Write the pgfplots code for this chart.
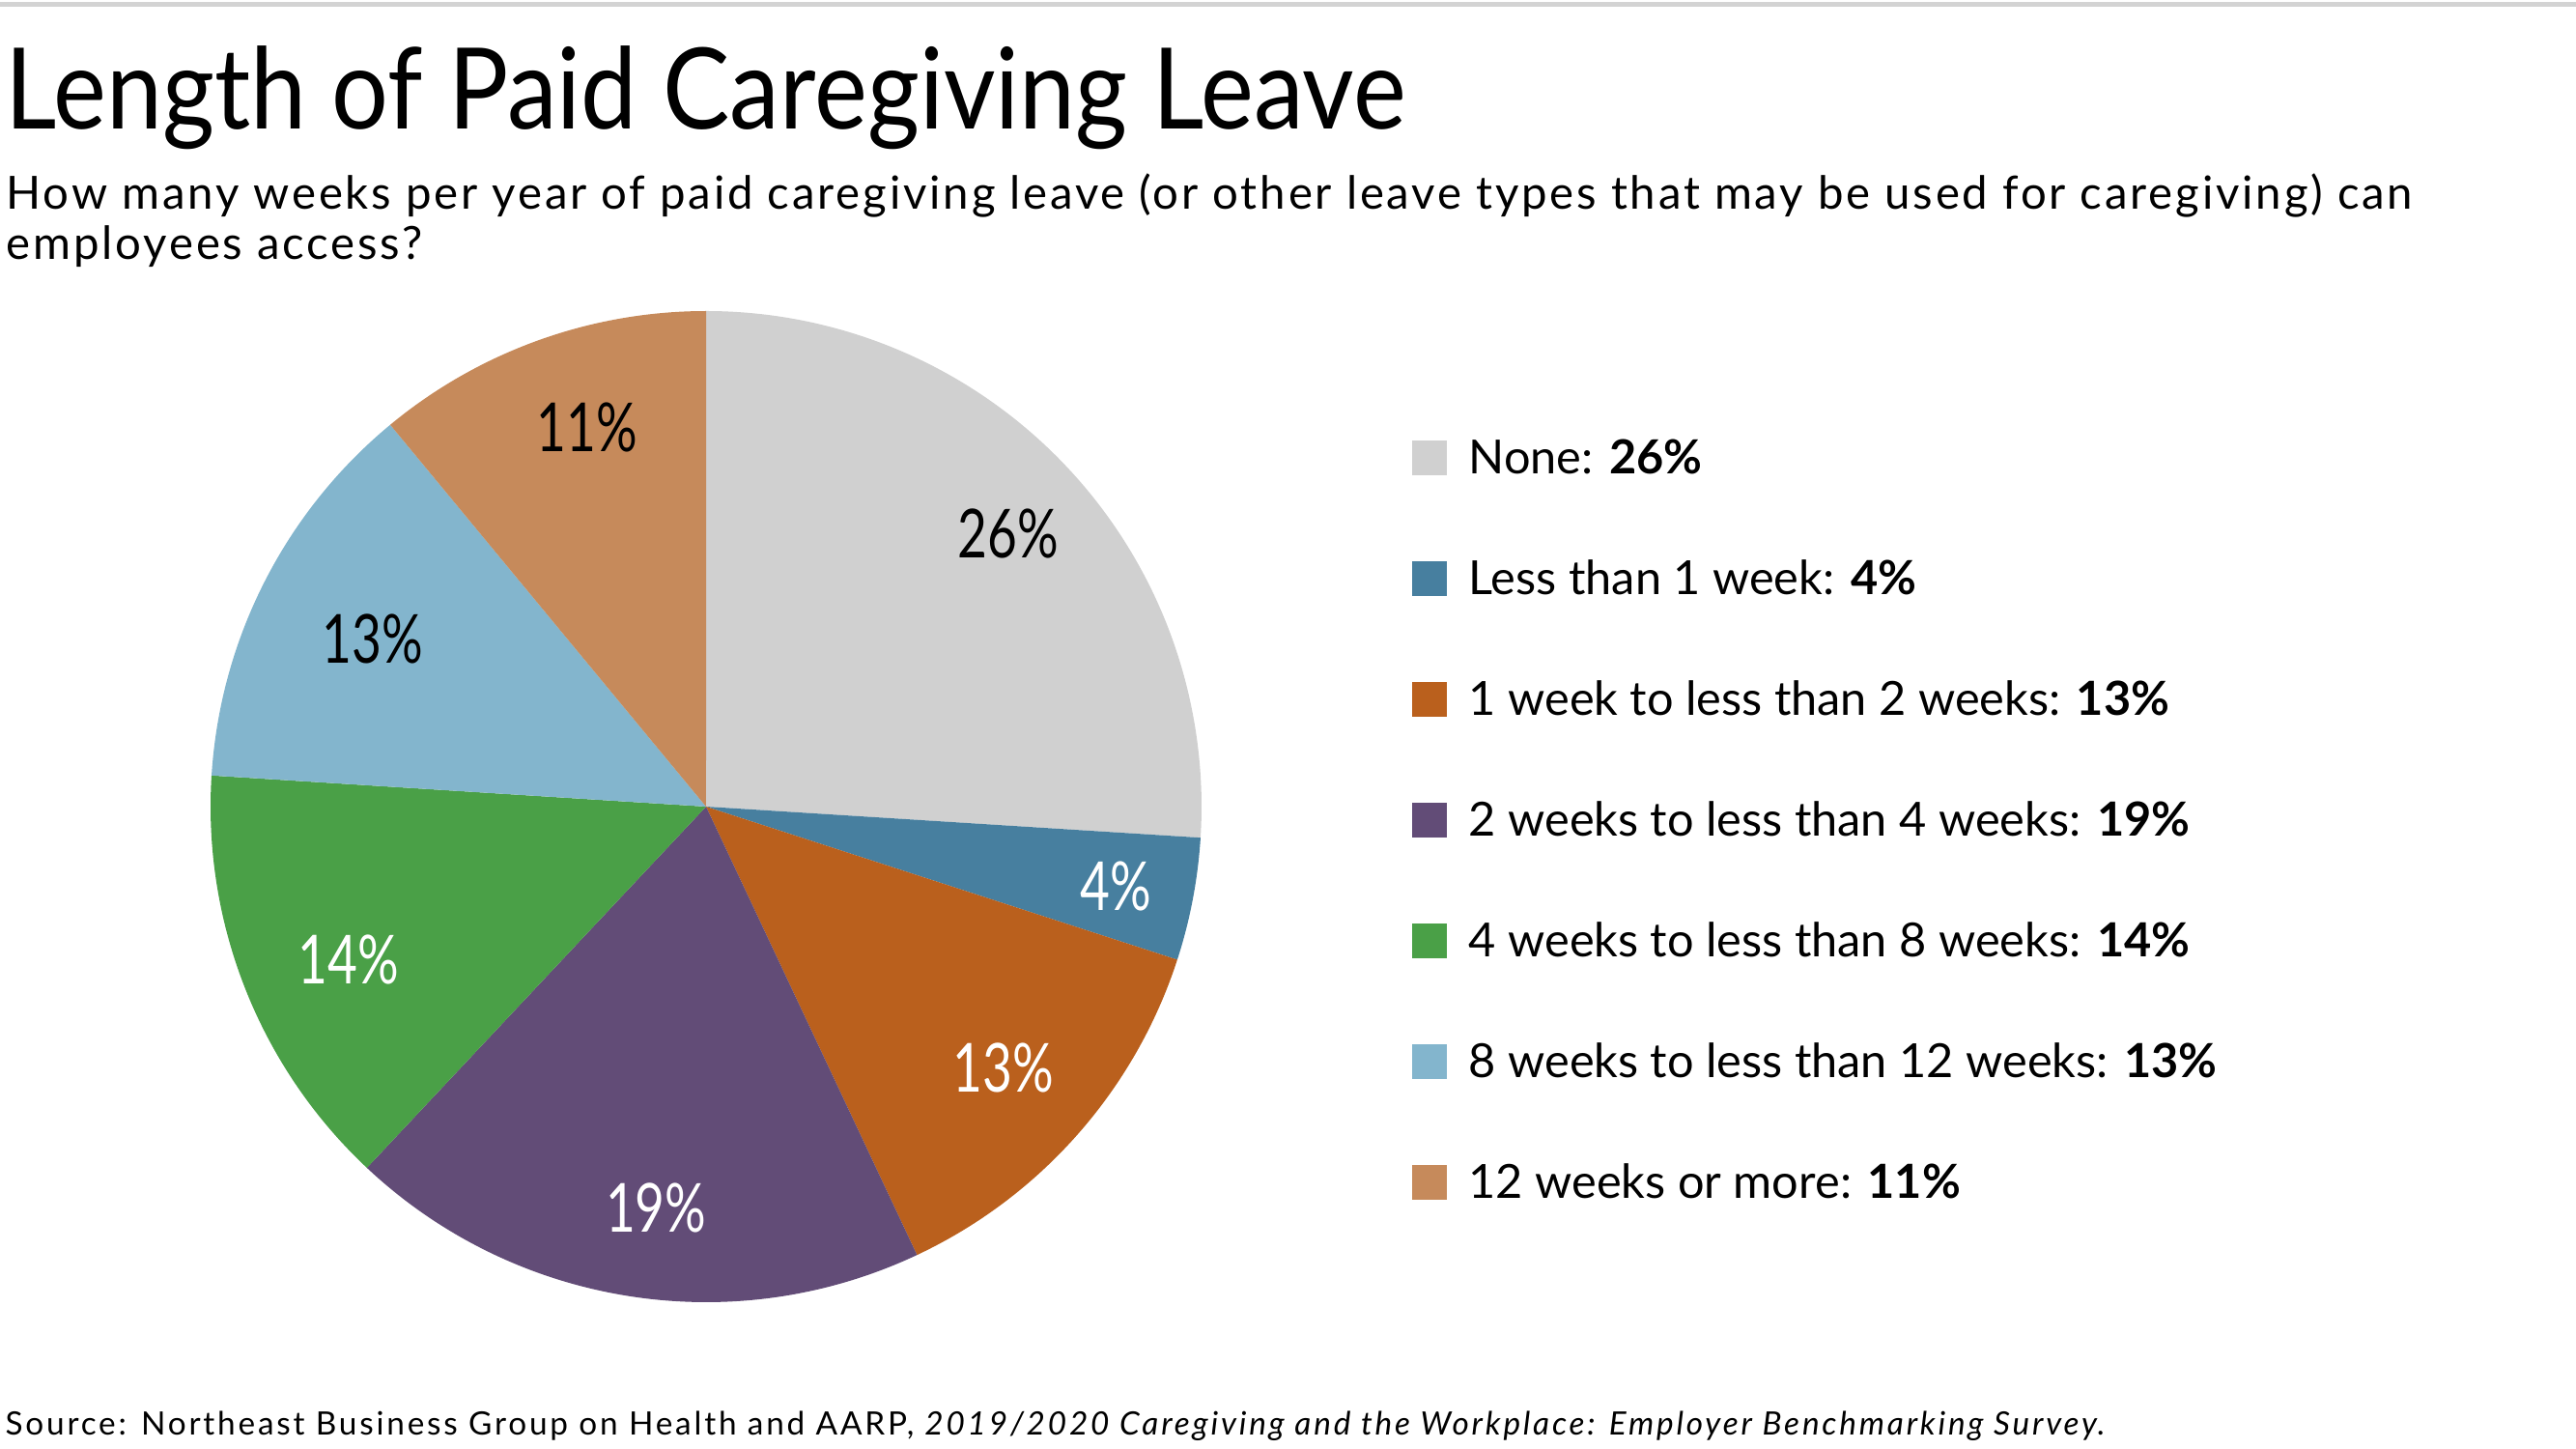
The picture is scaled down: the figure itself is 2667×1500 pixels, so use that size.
\documentclass[border=0pt]{standalone}
\usepackage{pgfplots}
\usepackage{pgfplotstable}
\pgfplotsset{compat=1.18}
\usepackage{fontspec}
\setmainfont{Lato}
\newfontfamily\condfont[FakeStretch=0.76]{Lato}
\newfontfamily\titlefont[FakeStretch=0.89]{Lato}
\newfontfamily\trackfont[LetterSpace=6.0]{Lato}
\newfontfamily\srcfont[LetterSpace=8.4]{Lato}

\definecolor{c0}{HTML}{D0D0D0}
\definecolor{c1}{HTML}{477F9F}
\definecolor{c2}{HTML}{BA601D}
\definecolor{c3}{HTML}{624C77}
\definecolor{c4}{HTML}{4AA047}
\definecolor{c5}{HTML}{83B5CD}
\definecolor{c6}{HTML}{C68A5B}
\colorlet{l0}{black}
\colorlet{l1}{white}
\colorlet{l2}{white}
\colorlet{l3}{white}
\colorlet{l4}{white}
\colorlet{l5}{black}
\colorlet{l6}{black}
\definecolor{topline}{HTML}{D3D3D3}

% share of employers (%), and where each slice's label sits (axis units)
\pgfplotstableread{
val lx ly
26 0.610 0.550
4 0.827 -0.160
13 0.600 -0.528
19 -0.101 -0.809
14 -0.721 -0.308
13 -0.673 0.339
11 -0.240 0.766
}\piedata

\begin{document}%
\begin{tikzpicture}[x=0.3pt,y=0.3pt]
\pgfmathsetmacro\cum{90}%
\foreach \i in {0,...,6}{%
  \pgfplotstablegetelem{\i}{val}\of\piedata
  \pgfmathsetmacro\e{\cum-3.6*\pgfplotsretval}%
  \expandafter\xdef\csname sa\i\endcsname{\cum}%
  \expandafter\xdef\csname ea\i\endcsname{\e}%
  \expandafter\xdef\csname v\i\endcsname{\pgfplotsretval}%
  \pgfplotstablegetelem{\i}{lx}\of\piedata
  \expandafter\xdef\csname lx\i\endcsname{\pgfplotsretval}%
  \pgfplotstablegetelem{\i}{ly}\of\piedata
  \expandafter\xdef\csname ly\i\endcsname{\pgfplotsretval}%
  \xdef\cum{\e}%
}%
\path[use as bounding box] (0,0) rectangle (2667,1500);
\fill[topline] (0,1493) rectangle (2667,1498);
% title
\node[anchor=base west,inner sep=0pt,font=\titlefont\fontsize{35}{42}\selectfont] at (5,1366) {Length of Paid Caregiving Leave};
\node[anchor=base west,inner sep=0pt,font=\trackfont\fontsize{14.2}{15.6}\selectfont] at (6,1283) {How many weeks per year of paid caregiving leave (or other leave types that may be used for caregiving) can};
\node[anchor=base west,inner sep=0pt,font=\trackfont\fontsize{14.2}{15.6}\selectfont] at (6,1231) {employees access?};
% source
\node[anchor=base west,inner sep=0pt,font=\srcfont\fontsize{10}{12}\selectfont] at (5,14) {Source: Northeast Business Group on Health and AARP, \textit{2019/2020 Caregiving and the Workplace: Employer Benchmarking Survey}.};

\begin{axis}[at={(219.3pt,199.5pt)}, anchor=center,
  x=153.9pt, y=153.9pt, xmin=-1, xmax=1, ymin=-1, ymax=1,
  hide axis, clip=false]
\pgfplotsinvokeforeach{0,...,6}{
  \fill[c#1] (axis cs:0,0) -- (axis cs:{cos(\csname sa#1\endcsname)},{sin(\csname sa#1\endcsname)})
     arc[start angle=\csname sa#1\endcsname, end angle=\csname ea#1\endcsname, radius=153.9pt] -- cycle;
}
\pgfplotsinvokeforeach{0,...,6}{
  \node[text=l#1, font=\condfont\fontsize{21}{24}\selectfont, inner sep=0pt]
    at (axis cs:\csname lx#1\endcsname,\csname ly#1\endcsname) {\csname v#1\endcsname\%};
}
\end{axis}

% legend
\foreach \i/\txt [count=\k from 0] in {0/{None: \textbf{26\%}},
  1/{Less than 1 week: \textbf{4\%}},
  2/{1 week to less than 2 weeks: \textbf{13\%}},
  3/{2 weeks to less than 4 weeks: \textbf{19\%}},
  4/{4 weeks to less than 8 weeks: \textbf{14\%}},
  5/{8 weeks to less than 12 weeks: \textbf{13\%}},
  6/{12 weeks or more: \textbf{11\%}}}{
  \pgfmathsetmacro\yb{1500-491-125*\k}
  \fill[c\i] (1462,\yb-1) rectangle (1498,\yb+35);
  \node[anchor=base west,inner sep=0pt,font=\fontsize{14.6}{17}\selectfont] at (1520,\yb) {\txt};
}
\end{tikzpicture}%
\end{document}
